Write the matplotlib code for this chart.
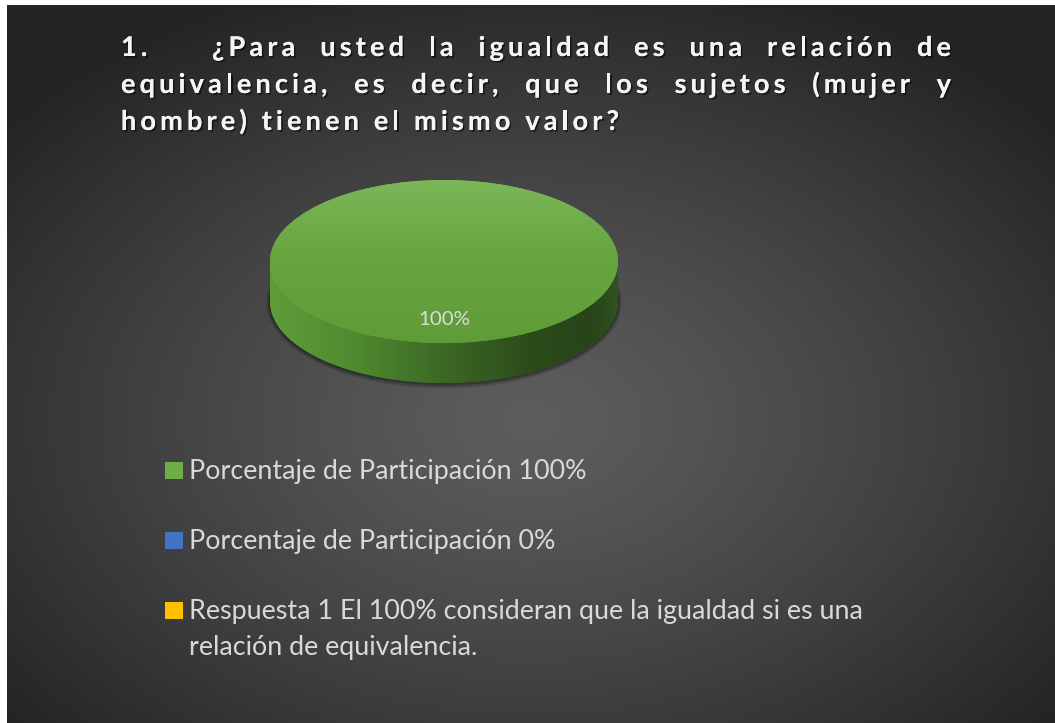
import numpy as np
import matplotlib
matplotlib.use("Agg")
import matplotlib.pyplot as plt
from matplotlib.patches import Rectangle, Ellipse, PathPatch
from matplotlib.path import Path
from matplotlib import font_manager
from matplotlib.font_manager import FontProperties
from matplotlib.ft2font import FT2Font, LOAD_NO_HINTING
import matplotlib.patheffects as pe

# ---------------- data ----------------
title_lines = ["1.\t¿Para usted la igualdad es una relación de",
               "equivalencia, es decir, que los sujetos (mujer y",
               "hombre) tienen el mismo valor?"]
categories = ["Porcentaje de Participación 100%",
              "Porcentaje de Participación 0%",
              "Respuesta 1 El 100% consideran que la igualdad si es una\nrelación de equivalencia."]
values = [100, 0, 0]
colors = ["#70ad47", "#4472c4", "#ffc000"]

W, H, DPI = 1055, 723, 100
fig = plt.figure(figsize=(W / DPI, H / DPI), dpi=DPI, facecolor="white")

# ---------------- background (radial gradient) ----------------
bx0, by0 = 7, 5
bw, bh = W - bx0, H - by0
bg = fig.add_axes([bx0 / W, 0, bw / W, bh / H])
bg.set_axis_off()
yy, xx = np.mgrid[0:bh, 0:bw]
cx, cy = 530 - bx0, 420 - by0
dx = (xx - cx) / (bw / 2)
dy = (yy - cy) / (bh / 2)
r = np.clip(np.hypot(dx, dy) / 1.3, 0, 1)
light, dark = 0x5d / 255, 0x24 / 255
val = light - (light - dark) * r ** 1.25
bg.imshow(np.dstack([val, val, val]), extent=(0, bw, bh, 0), aspect="auto",
          interpolation="bilinear")
bg.set_xlim(0, bw)
bg.set_ylim(bh, 0)

# ---------------- pie (pseudo 3D) ----------------
pcx, pcy = 444, 261.5
rx, ry = 174, 81.5
depth = 40
d = depth / ry
ylo, yhi = -1.3 - d - 0.2, 1.3
left = pcx - 1.3 * rx
width = 2.6 * rx
top = pcy - yhi * ry
height = (yhi - ylo) * ry
pax = fig.add_axes([left / W, 1 - (top + height) / H, width / W, height / H])
pax.set_axis_off()

# soft shadow under the pie (a few stacked translucent ellipses)
for k, a in enumerate([0.10, 0.14, 0.20]):
    gx_ = 0.022 - k * 0.007
    gy_ = 0.06 - k * 0.02
    pax.add_patch(Ellipse((0, -d - 0.01), 2 + 2 * gx_, 2 + 2 * gy_,
                          facecolor="black", edgecolor="none", alpha=a, zorder=0))

# side wall
t = np.linspace(np.pi, 2 * np.pi, 200)
verts = [(-1, 0), (-1, -d)] + [(np.cos(a), np.sin(a) - d) for a in t] + [(1, 0), (-1, 0)]
side_path = Path(verts, [Path.MOVETO] + [Path.LINETO] * (len(verts) - 2) + [Path.CLOSEPOLY])
side_patch = PathPatch(side_path, facecolor="#3d6a25", edgecolor="none", zorder=1)
pax.add_patch(side_patch)
stops_x = [0.0, 0.25, 0.5, 0.75, 0.92, 1.0]
stops_c = ["#5e9d3a", "#4f8a30", "#3c6824", "#2c4c1b", "#28451a", "#30521d"]
gx = np.linspace(0, 1, 400)
rgb = np.array([[int(c[i:i + 2], 16) / 255 for i in (1, 3, 5)] for c in stops_c])
grad = np.stack([np.interp(gx, stops_x, rgb[:, j]) for j in range(3)], axis=-1)[None, :, :]
im = pax.imshow(grad, extent=(-1, 1, -d - 1.05, 0.05), aspect="auto", zorder=1.5,
                interpolation="bilinear")
im.set_clip_path(side_patch)

lab_fp = FontProperties(family="Lato")


def adv_width(s, fp, size):
    f = FT2Font(font_manager.findfont(fp))
    f.set_size(size, DPI)
    w = 0.0
    for ch in s:
        g = f.load_char(ord(ch), flags=LOAD_NO_HINTING)
        w += g.linearHoriAdvance / 65536
    return w


pct_size = 10 * 52 / adv_width("100%", lab_fp, 10)

wedges, texts, autotexts = pax.pie(
    values, colors=colors, startangle=90, counterclock=False,
    autopct=lambda p: f"{p:.0f}%" if p > 0 else "",
    pctdistance=0.71, radius=1,
    wedgeprops=dict(linewidth=0, zorder=2),
    textprops=dict(color="#dcdcdc", fontsize=pct_size, family="Lato"))
for w_ in wedges:
    w_.set_zorder(2)

# top-face shading
gy = np.linspace(0, 1, 300)
tstops_y = [0.0, 0.45, 1.0]
tstops_c = ["#7db85a", "#68a640", "#5f9c38"]
trgb = np.array([[int(c[i:i + 2], 16) / 255 for i in (1, 3, 5)] for c in tstops_c])
tgrad = np.stack([np.interp(gy, tstops_y, trgb[:, j]) for j in range(3)], axis=-1)[:, None, :]
for w_, v in zip(wedges, values):
    if v > 0:
        tim = pax.imshow(tgrad, extent=(-1.05, 1.05, -1.05, 1.05), aspect="auto",
                         zorder=2.5, interpolation="bilinear")
        tim.set_clip_path(w_)
for at in autotexts:
    at.set_zorder(5)
pax.set_aspect("auto")
pax.set_xlim(-1.3, 1.3)
pax.set_ylim(ylo, yhi)

# ---------------- overlay for text ----------------
ov = fig.add_axes([0, 0, 1, 1])
ov.set_axis_off()
ov.set_xlim(0, W)
ov.set_ylim(H, 0)
ov.patch.set_alpha(0)

title_fp = FontProperties(family="Lato", weight="bold")
tsize = 19.5
shadow = [pe.withSimplePatchShadow(offset=(1.2, -1.2), shadow_rgbFace="black", alpha=0.55),
          pe.Normal()]
tfont = FT2Font(font_manager.findfont(title_fp))
tfont.set_size(tsize, DPI)


def adv(ch):
    g = tfont.load_char(ord(ch), flags=LOAD_NO_HINTING)
    return g.linearHoriAdvance / 65536


last = title_lines[2]
nat = sum(adv(c) for c in last)
tracking = (621 - 123 - nat) / (len(last) - 1)


def place(s, x0, y, x1=None):
    n_sp = s.count(" ")
    natw = sum(adv(c) + tracking for c in s) - tracking
    extra = 0.0 if x1 is None or n_sp == 0 else (x1 - x0 - natw) / n_sp
    x = x0
    for c in s:
        if c != " ":
            ov.text(x, y, c, fontproperties=title_fp, fontsize=tsize, color="#f5f5f5",
                    ha="left", va="baseline", path_effects=shadow)
        x += adv(c) + tracking + (extra if c == " " else 0)


baselines = [56, 93, 130]
num, rest = title_lines[0].split("\t")
place(num, 121, baselines[0])
place(rest, 212, baselines[0], 951)
place(title_lines[1], 121, baselines[1], 951)
place(title_lines[2], 121, baselines[2])

# ---------------- legend ----------------
leg_size = 10 * 397 / adv_width(categories[0], lab_fp, 10)
leg_base = [479, 549, 619]
line_gap = 36
for cat, col, yb in zip(categories, colors, leg_base):
    ov.add_patch(Rectangle((165, yb - 17), 18, 17, facecolor=col, edgecolor="none"))
    for j, ln in enumerate(cat.split("\n")):
        ov.text(189, yb + j * line_gap, ln, fontproperties=lab_fp, fontsize=leg_size,
                color="#d9d9d9", ha="left", va="baseline")

fig.savefig("out.png", dpi=DPI, facecolor="white")
